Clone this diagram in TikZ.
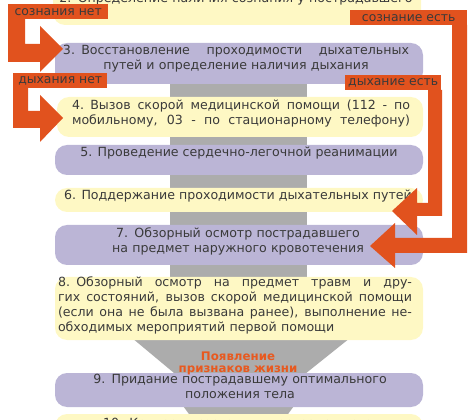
\documentclass[tikz,border=0pt]{standalone}
\usepackage{fontspec}
\setmainfont{DejaVu Sans}
\usepackage{xcolor}
\usepackage{tikz}
\usetikzlibrary{positioning, arrows.meta}
\definecolor{bYellow}{HTML}{FEF8C4}
\definecolor{bLilac}{HTML}{BBB5D6}
\definecolor{bGray}{HTML}{ACACAC}
\definecolor{aOrange}{HTML}{E1521E}
\definecolor{aOrangeText}{HTML}{E8591F}
\definecolor{nInk}{HTML}{3A3A3A}
\newcommand{\spreadline}[2]{\leavevmode\hbox to #1{\spaceskip=0.3em plus 1fil\relax #2}}

\begin{document}
\begin{tikzpicture}[x=1pt, y=-1pt,
          ybox/.style={fill=bYellow, rounded corners=12pt},
          lbox/.style={fill=bLilac, rounded corners=12pt},
          stem/.style={fill=bGray},
          turnArrow/.style={fill=aOrange},
          tag/.style={fill=aOrange, text=nInk, font=\fontsize{12.4}{14}\selectfont,
            inner sep=0pt, anchor=north west, minimum height=15pt},
          txt/.style={text=nInk, font=\fontsize{12.6}{15}\selectfont, inner sep=0pt,
            anchor=base, align=center}]
        \useasboundingbox (0,0) rectangle (475,420);
        \clip (0,0) rectangle (475,420);
        \fill[stem] (170,80) rectangle (307,282);
        \fill[stem] (132,338) -- (350,338) -- (300,378) -- (180,378) -- cycle;
        \fill[stem] (175,395) -- (302,395) -- (280,425) -- (197,425) -- cycle;
        \path[ybox] (53,-30) rectangle (421,25);
        \path[lbox] (55,43) rectangle (423,84);
        \path[ybox] (57,97) rectangle (423,137);
        \path[lbox] (55,145) rectangle (423,175);
        \path[ybox] (55,188) rectangle (423,212);
        \path[lbox] (55,225) rectangle (423,265);
        \path[ybox] (55,277) rectangle (423,340);
        \path[lbox] (55,373) rectangle (423,407);
        \path[ybox] (55,414) rectangle (423,460);
        \node[txt, text width=360pt] (s2) at (236,3)
          {2. Определение наличия сознания у пострадавшего};
        \node[txt, text width=346pt] (s3) at (236,55)
          {\spreadline{346pt}{3. Восстановление проходимости дыхательных}\\
           путей и определение наличия дыхания};
        \node[txt, text width=338pt] (s4) at (241,110)
          {\spreadline{338pt}{4. Вызов скорой медицинской помощи (112 - по}\\
           \spreadline{338pt}{мобильному, 03 - по стационарному телефону)}};
        \node[txt] (s5) at (239,157) {5. Проведение сердечно-легочной реанимации};
        \node[txt] (s6) at (238,200) {6. Поддержание проходимости дыхательных путей};
        \node[txt, text width=320pt] (s7) at (238,238)
          {7. Обзорный осмотр пострадавшего\\ на предмет наружного кровотечения};
        \node[txt, text width=354pt, align=left] (s8) at (235,287)
          {\spreadline{354pt}{8. Обзорный осмотр на предмет травм и дру-}\\
           \spreadline{354pt}{гих состояний, вызов скорой медицинской помощи}\\
           \spreadline{354pt}{(если она не была вызвана ранее), выполнение не-}\\
           обходимых мероприятий первой помощи};
        \node[txt, text=aOrangeText, font=\bfseries\fontsize{11.8}{13}\selectfont,
          text width=200pt] (life) at (238,360) {Появление\\ признаков жизни};
        \node[txt, text width=340pt] (s9) at (240,384)
          {9. Придание пострадавшему оптимального\\ положения тела};
        \node[txt, text width=340pt] (s10) at (238,428)
          {10. Контроль состояния пострадавшего};
        \fill[turnArrow] (8,18) -- (25,18) -- (25,44) -- (40,44) -- (40,26) -- (63,49)
          -- (40,72) -- (40,62) -- (8,62) -- cycle;
        \fill[turnArrow] (13,88) -- (28,88) -- (28,111) -- (40,111) -- (40,95) -- (63,118)
          -- (40,142) -- (40,128) -- (13,128) -- cycle;
        \fill[turnArrow] (452,25) -- (467,25) -- (467,253) -- (395,253) -- (395,268)
          -- (370,246) -- (395,223) -- (395,238) -- (452,238) -- cycle;
        \fill[turnArrow] (428,90) -- (442,90) -- (442,216) -- (417,216) -- (417,235)
          -- (392,211) -- (417,188) -- (417,203) -- (428,203) -- cycle;
        \node[tag, minimum width=100pt] (noConsc) at (8,4) {сознания нет};
        \node[tag, minimum width=117pt] (consc) at (350,10) {сознание есть};
        \node[tag, minimum width=94pt] (noBreath) at (13,73) {дыхания нет};
        \node[tag, minimum width=96pt] (breath) at (345,75) {дыхание есть};
      \end{tikzpicture}
\end{document}
